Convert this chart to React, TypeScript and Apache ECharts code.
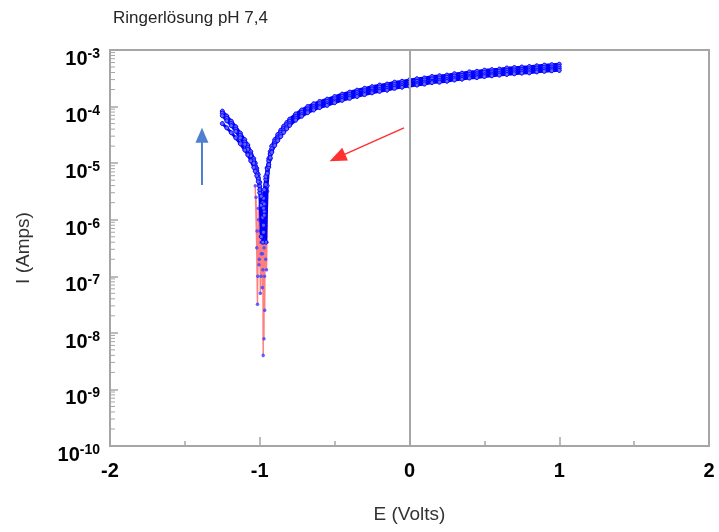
import React, { useEffect, useRef } from "react";
import * as echarts from "echarts";

// Potential (V) shared by all scans
const E_VOLTS = [
  -1.25, -1.22, -1.19, -1.16, -1.13, -1.1, -1.08, -1.06, -1.04, -1.03, -1.02, -1.01, -1.0,
  -0.99, -0.98, -0.975, -0.97, -0.96, -0.95, -0.94, -0.93, -0.92, -0.9, -0.88, -0.86, -0.84,
  -0.82, -0.8, -0.76, -0.72, -0.68, -0.64, -0.6, -0.55, -0.5, -0.45, -0.4, -0.35, -0.3, -0.25,
  -0.2, -0.15, -0.1, -0.05, 0.0, 0.05, 0.1, 0.15, 0.2, 0.25, 0.3, 0.35, 0.4, 0.45, 0.5, 0.55,
  0.6, 0.65, 0.7, 0.75, 0.8, 0.85, 0.9, 0.95, 1.0,
];

// Current (A), scans
const SCAN_1 = [
  8.3e-5, 6.8e-5, 5.5e-5, 4.4e-5, 3.4e-5, 2.6e-5, 2.1e-5, 1.6e-5, 1.2e-5, 1.0e-5, 8.1e-6, 6.3e-6, 4.6e-6,
  2.8e-6, 1.1e-6, 6.0e-7, 1.4e-6, 5.2e-6, 8.3e-6, 1.2e-5, 1.6e-5, 2.0e-5, 2.6e-5, 3.2e-5, 3.8e-5, 4.5e-5,
  5.2e-5, 6.0e-5, 7.4e-5, 8.7e-5, 1.0e-4, 1.12e-4, 1.23e-4, 1.35e-4, 1.5e-4, 1.66e-4, 1.8e-4, 1.95e-4, 2.1e-4, 2.25e-4,
  2.4e-4, 2.5e-4, 2.7e-4, 2.8e-4, 2.95e-4, 3.1e-4, 3.2e-4, 3.4e-4, 3.5e-4, 3.6e-4, 3.8e-4, 3.9e-4, 4.1e-4, 4.2e-4, 4.4e-4, 4.5e-4,
  4.6e-4, 4.8e-4, 4.9e-4, 5.0e-4, 5.1e-4, 5.25e-4, 5.4e-4, 5.5e-4, 5.6e-4,
];
const SCAN_2 = [
  7.6e-5, 6.2e-5, 5.0e-5, 4.0e-5, 3.1e-5, 2.35e-5, 1.9e-5, 1.45e-5, 1.1e-5, 9.0e-6, 7.3e-6, 5.6e-6, 3.0e-6,
  5.0e-7, 1.8e-6, 2.4e-6, 3.4e-6, 5.8e-6, 8.0e-6, 1.1e-5, 1.45e-5, 1.8e-5, 2.4e-5, 2.9e-5, 3.5e-5, 4.1e-5,
  4.8e-5, 5.5e-5, 6.7e-5, 7.9e-5, 9.1e-5, 1.0e-4, 1.12e-4, 1.23e-4, 1.37e-4, 1.51e-4, 1.64e-4, 1.77e-4, 1.9e-4, 2.05e-4,
  2.2e-4, 2.3e-4, 2.45e-4, 2.55e-4, 2.7e-4, 2.8e-4, 2.95e-4, 3.1e-4, 3.2e-4, 3.3e-4, 3.45e-4, 3.55e-4, 3.7e-4, 3.8e-4, 4.0e-4, 4.1e-4,
  4.2e-4, 4.35e-4, 4.45e-4, 4.55e-4, 4.65e-4, 4.8e-4, 4.9e-4, 5.0e-4, 5.1e-4,
];
const SCAN_3 = [
  6.9e-5, 5.6e-5, 4.6e-5, 3.65e-5, 2.8e-5, 2.15e-5, 1.75e-5, 1.35e-5, 1.0e-5, 8.4e-6, 6.8e-6, 5.3e-6, 3.9e-6,
  2.6e-6, 2.0e-6, 1.6e-6, 1.2e-6, 4.0e-7, 4.0e-6, 8.5e-6, 1.2e-5, 1.6e-5, 2.2e-5, 2.7e-5, 3.2e-5, 3.75e-5,
  4.35e-5, 5.0e-5, 6.2e-5, 7.2e-5, 8.3e-5, 9.3e-5, 1.02e-4, 1.12e-4, 1.25e-4, 1.38e-4, 1.5e-4, 1.62e-4, 1.74e-4, 1.87e-4,
  2.0e-4, 2.1e-4, 2.25e-4, 2.35e-4, 2.45e-4, 2.55e-4, 2.7e-4, 2.8e-4, 2.9e-4, 3.0e-4, 3.15e-4, 3.25e-4, 3.4e-4, 3.5e-4, 3.65e-4, 3.75e-4,
  3.85e-4, 4.0e-4, 4.1e-4, 4.2e-4, 4.3e-4, 4.4e-4, 4.5e-4, 4.6e-4, 4.7e-4,
];
const SCAN_4 = [
  5.0e-5, 4.2e-5, 3.45e-5, 2.8e-5, 2.2e-5, 1.7e-5, 1.4e-5, 1.1e-5, 8.4e-6, 7.2e-6, 6.0e-6, 4.7e-6, 3.4e-6,
  1.8e-6, 4.0e-7, 8.0e-7, 1.9e-6, 4.2e-6, 6.6e-6, 9.4e-6, 1.25e-5, 1.55e-5, 2.05e-5, 2.5e-5, 2.95e-5, 3.5e-5,
  4.05e-5, 4.65e-5, 5.75e-5, 6.75e-5, 7.8e-5, 8.7e-5, 9.6e-5, 1.05e-4, 1.17e-4, 1.29e-4, 1.4e-4, 1.51e-4, 1.63e-4, 1.75e-4,
  1.86e-4, 1.95e-4, 2.1e-4, 2.2e-4, 2.3e-4, 2.4e-4, 2.5e-4, 2.65e-4, 2.7e-4, 2.8e-4, 2.95e-4, 3.05e-4, 3.2e-4, 3.25e-4, 3.4e-4, 3.5e-4,
  3.6e-4, 3.7e-4, 3.8e-4, 3.9e-4, 3.95e-4, 4.1e-4, 4.2e-4, 4.3e-4, 4.35e-4,
];
const SCANS = [SCAN_1, SCAN_2, SCAN_3, SCAN_4];

// Noisy points around the corrosion potential
const DIP_E = [
  -1.03, -1.02, -1.025, -1.015, -1.01, -1.005, -1.0, -0.996, -0.993, -0.99, -0.986, -0.983, -0.98,
  -0.977, -0.975, -0.972, -0.97, -0.967, -0.964, -0.96, -0.956, -0.952, -0.948, -0.955, -0.962, -0.968,
  -0.974, -0.979, -0.985, -0.991, -0.997, -1.003, -1.008, -1.013, -1.018, -0.992, -0.982, -0.971, -0.961,
];
const DIP_I = [
  4.0e-6, 3.2e-7, 2.5e-6, 3.2e-8, 1.6e-6, 1.6e-7, 3.2e-6, 5.0e-8, 1.3e-6, 2.5e-7, 2.0e-6, 6.3e-8, 1.0e-6,
  4.0e-9, 6.3e-7, 7.9e-9, 1.6e-6, 2.5e-8, 1.3e-6, 2.0e-7, 2.5e-6, 4.0e-7, 3.2e-6, 1.3e-7, 7.9e-7, 1.0e-7,
  5.0e-7, 1.3e-7, 7.9e-7, 1.0e-7, 6.3e-7, 2.0e-7, 1.0e-6, 1.0e-7, 6.3e-7, 4.0e-7, 2.5e-7, 3.2e-7, 5.0e-7,
];

// Annotation arrows [E, I]
const BLUE_ARROW = [[-1.386, 4.1e-6], [-1.386, 3.1e-5]];
const RED_ARROW = [[-0.037, 4.2e-5], [-0.482, 1.25e-5]];

const Y_DECADES = [-10, -9, -8, -7, -6, -5, -4, -3];

const FONT = "Liberation Sans, Arial, sans-serif";
const AXIS_GRAY = "#a6a6a6";

export default function App() {
  const ref = useRef<HTMLDivElement>(null);

  useEffect(() => {
    const chart = echarts.init(ref.current!, null, { renderer: "svg" });

    const minorTicks: number[][] = [];
    for (let k = 0; k < Y_DECADES.length - 1; k++) {
      for (let d = 2; d <= 9; d++) minorTicks.push([-2, d * Math.pow(10, Y_DECADES[k])]);
    }

    const scanSeries = SCANS.map((scan, si) => ({
      type: "line",
      name: "scan" + (si + 1),
      data: E_VOLTS.map((e, i) => [e, scan[i]]),
      showSymbol: true,
      showAllSymbol: true,
      symbol: "circle",
      symbolSize: 4,
      itemStyle: { color: "rgba(100,100,255,1)", borderColor: "#0000ff", borderWidth: 1 },
      lineStyle: { color: "#0000ff", width: 2.8 },
      silent: true,
      z: 3,
      ...(si === 0
        ? {
            markLine: {
              silent: true,
              symbol: ["none", "none"],
              label: { show: false },
              lineStyle: { type: "solid" },
              data: [
                { xAxis: 0, lineStyle: { color: AXIS_GRAY, width: 2, type: "solid" } },
                [
                  { coord: BLUE_ARROW[0], lineStyle: { color: "#4f7fcf", width: 2, type: "solid" } },
                  { coord: BLUE_ARROW[1], symbol: "triangle", symbolSize: [13, 15] },
                ],
                [
                  { coord: RED_ARROW[0], lineStyle: { color: "#ff3030", width: 1.5, type: "solid" } },
                  { coord: RED_ARROW[1], symbol: "triangle", symbolSize: [14, 17] },
                ],
              ],
            },
          }
        : {}),
    }));

    chart.setOption({
      animation: false,
      title: {
        text: "Ringerlösung pH 7,4",
        left: 108,
        top: 4,
        textStyle: { fontFamily: FONT, fontSize: 17, fontWeight: "normal", color: "#262626" },
      },
      grid: {
        left: 110,
        right: 10,
        top: 50,
        bottom: 86,
        show: true,
        borderColor: AXIS_GRAY,
        borderWidth: 2,
      },
      xAxis: {
        type: "value",
        min: -2,
        max: 2,
        interval: 1,
        name: "E (Volts)",
        nameLocation: "middle",
        nameGap: 58,
        nameTextStyle: { fontFamily: FONT, fontSize: 19, color: "#333" },
        axisLine: { show: true, onZero: false, lineStyle: { color: AXIS_GRAY, width: 2 } },
        axisTick: { show: true, inside: true, length: 9, lineStyle: { color: AXIS_GRAY, width: 1.5 } },
        minorTick: { show: true, splitNumber: 2, length: 5, lineStyle: { color: AXIS_GRAY, width: 1.5 } },
        splitLine: { show: false },
        axisLabel: { fontFamily: FONT, fontSize: 20, fontWeight: "bold", color: "#000", margin: 14 },
      },
      yAxis: {
        type: "log",
        logBase: 10,
        min: 1e-10,
        max: 1e-3,
        splitNumber: 7,
        name: "I (Amps)",
        nameLocation: "middle",
        nameGap: 78,
        nameTextStyle: { fontFamily: FONT, fontSize: 19, color: "#333" },
        axisLine: { show: true, onZero: false, lineStyle: { color: AXIS_GRAY, width: 2 } },
        axisTick: { show: true, inside: true, length: 8, lineStyle: { color: AXIS_GRAY, width: 1.5 } },
        splitLine: { show: false },
        axisLabel: {
          margin: 10,
          formatter: (v: number) => "{b|10}{s|" + Math.round(Math.log10(v)) + "}",
          rich: {
            b: { fontFamily: FONT, fontSize: 20, fontWeight: "bold", color: "#000", padding: [16, 0, 0, 0] },
            s: { fontFamily: FONT, fontSize: 14, fontWeight: "bold", color: "#000", padding: [6, 0, 0, 0] },
          },
        },
      },
      series: [
        {
          type: "custom",
          silent: true,
          clip: false,
          data: minorTicks,
          renderItem: (params: any, api: any) => {
            const p = api.coord([api.value(0), api.value(1)]);
            return {
              type: "line",
              shape: { x1: p[0], y1: p[1], x2: p[0] + 5, y2: p[1] },
              style: { stroke: AXIS_GRAY, lineWidth: 1 },
            };
          },
          z: 1,
        },
        {
          type: "line",
          name: "dip",
          data: DIP_E.map((e, i) => [e, DIP_I[i]]),
          showSymbol: true,
          showAllSymbol: true,
          symbol: "circle",
          symbolSize: 3.5,
          itemStyle: { color: "rgba(70,70,255,0.85)" },
          lineStyle: { color: "rgba(255,0,0,0.5)", width: 1.5 },
          silent: true,
          z: 2,
        },
        ...scanSeries,
      ],
    });

    return () => chart.dispose();
  }, []);

  return <div ref={ref} style={{ position: "fixed", left: 0, top: 0, width: 719, height: 532 }} />;
}
